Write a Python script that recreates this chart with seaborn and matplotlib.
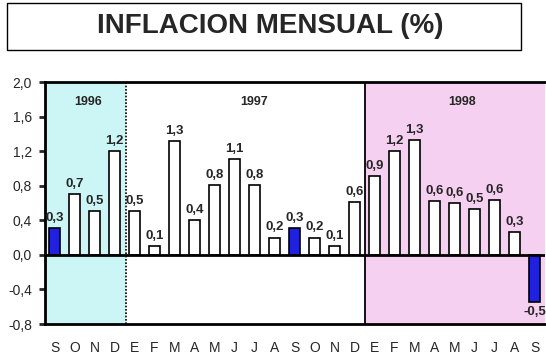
import numpy as np
import pandas as pd
import matplotlib
matplotlib.use('Agg')
import matplotlib.pyplot as plt
import seaborn as sns
from matplotlib.patches import Rectangle

# Data
months = ['S', 'O', 'N', 'D',
          'E', 'F', 'M', 'A', 'M', 'J', 'J', 'A', 'S', 'O', 'N', 'D',
          'E', 'F', 'M', 'A', 'M', 'J', 'J', 'A', 'S']
inflation = [0.31, 0.70, 0.51, 1.20,
             0.51, 0.10, 1.32, 0.40, 0.81, 1.11, 0.81, 0.20, 0.31, 0.20, 0.10, 0.61,
             0.91, 1.20, 1.33, 0.62, 0.60, 0.53, 0.63, 0.26, -0.54]
years = ['1996', '1997', '1998']
year_pos = [1.7, 10.0, 20.4]
highlight = [0, 12, 24]   # september bars in blue

df = pd.DataFrame({'idx': np.arange(len(months)), 'mes': months, 'valor': inflation})
df['tipo'] = ['sep' if i in highlight else 'normal' for i in df['idx']]

sns.set_style('white')
plt.rcParams['font.family'] = ['Liberation Sans', 'DejaVu Sans']

fig = plt.figure(figsize=(5.46, 3.63), dpi=100)
ax = fig.add_axes([44.5 / 546, 39 / 363, 500 / 546, 242 / 363])

# year background shading
ax.axvspan(-0.5, 3.55, color='#ccf6f6', lw=0, zorder=0)
ax.axvspan(15.5, 24.5, color='#f6d0f0', lw=0, zorder=0)
ax.axvline(3.55, color='black', lw=1.2, ls=(0, (1, 1)), zorder=1)
ax.axvline(15.5, color='black', lw=1.3, zorder=1)

sns.barplot(data=df, x='idx', y='valor', hue='tipo',
            palette={'normal': 'white', 'sep': '#0000ff'},
            dodge=False, legend=False, width=0.58,
            edgecolor='black', linewidth=1.2, ax=ax, zorder=3)

ax.axhline(0, color='black', lw=2, zorder=4)

# value labels
for i, v in enumerate(inflation):
    txt = f'{v:.1f}'.replace('.', ',')
    off = 3 if v >= 0 else -3
    ax.annotate(txt, (i, v), xytext=(0, off), textcoords='offset points',
                ha='center', va='bottom' if v >= 0 else 'top',
                fontsize=9.5, fontweight='bold', zorder=5)

for y, p in zip(years, year_pos):
    ax.text(p, 1.77, y, ha='center', va='center', fontsize=9, fontweight='bold')

ax.set_xlim(-0.5, 24.5)
ax.set_ylim(-0.8, 2.0)
yt = np.arange(-0.8, 2.01, 0.4)
ax.set_yticks(yt)
ax.set_yticklabels([f'{t:.1f}'.replace('.', ',').replace('-0,0', '0,0') for t in yt], fontsize=10)
ax.set_xticks(range(len(months)))
ax.set_xticklabels(months, fontsize=10)
ax.tick_params(axis='y', length=4, width=2, direction='out', pad=5, left=True)
ax.tick_params(axis='x', length=0, pad=12)
ax.set_xlabel('')
ax.set_ylabel('')

for s in ['top', 'bottom', 'left']:
    ax.spines[s].set_linewidth(2)
    ax.spines[s].set_color('black')
ax.spines['right'].set_visible(False)

# title box
fig.patches.append(Rectangle((7 / 546, (363 - 50) / 363), 514 / 546, 47 / 363,
                             transform=fig.transFigure, facecolor='white',
                             edgecolor='black', lw=1))
fig.text(270 / 546, (363 - 26) / 363, 'INFLACION MENSUAL (%)', ha='center', va='center',
         fontsize=20, fontweight='bold')

fig.savefig('out.png', dpi=100)
